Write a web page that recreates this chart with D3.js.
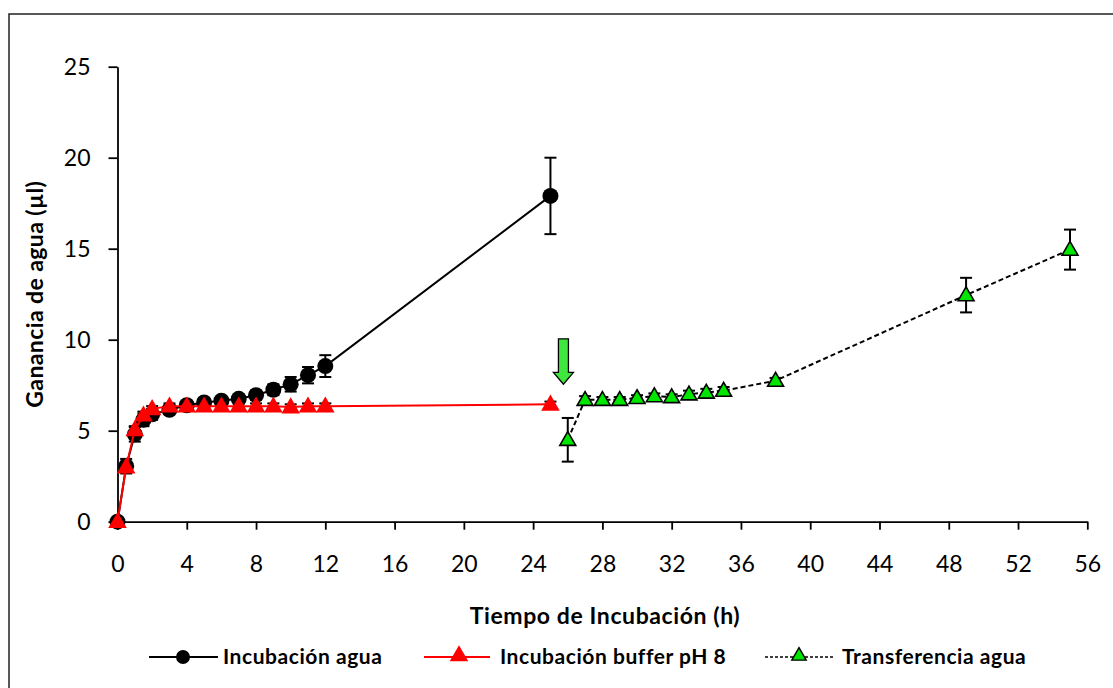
<!DOCTYPE html>
<html>
<head>
<meta charset="utf-8">
<script src="https://cdn.jsdelivr.net/npm/d3@7"></script>
<style>
  body { margin: 0; background: #fff; }
  svg { display: block; font-family: Lato, 'Open Sans', sans-serif; }
</style>
</head>
<body>
<div id="app"></div>
<script>
// tiempos (h) y ganancia de agua (µl)
const aguaT = [0, 0.5, 1, 1.5, 2, 3, 4, 5, 6, 7, 8, 9, 10, 11, 12, 25]
const aguaV = [0, 3.05, 4.8, 5.6, 5.9, 6.15, 6.4, 6.55, 6.65, 6.75, 6.95, 7.25, 7.55, 8.05, 8.55, 17.9]
const aguaE = [0, 0.4, 0.4, 0.35, 0.3, 0.2, 0.2, 0.2, 0.2, 0.2, 0.25, 0.3, 0.4, 0.45, 0.6, 2.1]

const bufferT = [0, 0.5, 1, 1.5, 2, 3, 4, 5, 6, 7, 8, 9, 10, 11, 12, 25]
const bufferV = [0, 3.0, 5.05, 5.85, 6.2, 6.35, 6.35, 6.35, 6.35, 6.35, 6.35, 6.35, 6.3, 6.35, 6.35, 6.45]
const bufferE = [0, 0.2, 0.2, 0.2, 0.15, 0.15, 0.15, 0.15, 0.15, 0.15, 0.15, 0.15, 0.15, 0.15, 0.15, 0.15]

const transT = [26, 27, 28, 29, 30, 31, 32, 33, 34, 35, 38, 49, 55]
const transV = [4.5, 6.7, 6.7, 6.7, 6.8, 6.9, 6.85, 7.0, 7.1, 7.2, 7.75, 12.45, 14.95]
const transE = [1.2, 0.2, 0.15, 0.15, 0.15, 0.15, 0.15, 0.2, 0.2, 0.2, 0.15, 0.95, 1.1]

const xTicks = d3.range(0, 57, 4)
const yTicks = [0, 5, 10, 15, 20, 25]

const W = 1113, H = 688

const svg = d3.select('#app').append('svg')
    .attr('width', W)
    .attr('height', H)

// marco exterior
svg.append('rect')
    .attr('x', 9).attr('y', 14)
    .attr('width', W).attr('height', H)
    .attr('fill', 'none')
    .attr('stroke', '#222')
    .attr('stroke-width', 1.5)

const x = d3.scaleLinear().domain([0, 56]).range([117.5, 1087.3])
const y = d3.scaleLinear().domain([0, 25]).range([521.7, 66.7])

const xAxis = d3.axisBottom(x).tickValues(xTicks).tickSize(8).tickSizeOuter(0).tickPadding(26)
const yAxis = d3.axisLeft(y).tickValues(yTicks).tickSize(9).tickSizeOuter(0).tickPadding(18)

const gx = svg.append('g')
    .attr('transform', 'translate(0,' + y(0) + ')')
    .call(xAxis)
const gy = svg.append('g')
    .attr('transform', 'translate(' + x(0) + ',0)')
    .call(yAxis)

;[gx, gy].forEach(g => {
    g.select('.domain').attr('stroke', '#000').attr('stroke-width', 1.8)
    g.selectAll('.tick line').attr('stroke', '#000').attr('stroke-width', 1.8)
    g.selectAll('.tick text')
        .attr('fill', '#000')
        .style('font-size', '23px')
        .style('font-family', 'Lato, sans-serif')
})

// titulos de ejes
svg.append('text')
    .attr('x', 605).attr('y', 624)
    .attr('text-anchor', 'middle')
    .style('font-size', '23px')
    .style('font-weight', 'bold')
    .style('letter-spacing', '0.6px')
    .text('Tiempo de Incubación  (h)')

svg.append('text')
    .attr('transform', 'translate(43,' + (y(0) + y(25)) / 2 + ') rotate(-90)')
    .attr('text-anchor', 'middle')
    .style('font-size', '23px')
    .style('font-weight', 'bold')
    .style('letter-spacing', '0.4px')
    .text('Ganancia de agua  (µl)')

const toPts = (t, v, e) => t.map((d, i) => ({t: d, v: v[i], e: e[i]}))
const agua = toPts(aguaT, aguaV, aguaE)
const buffer = toPts(bufferT, bufferV, bufferE)
const trans = toPts(transT, transV, transE)

const line = d3.line().x(d => x(d.t)).y(d => y(d.v))

const errorBars = (data) => {
    const g = svg.append('g')
    data.filter(d => d.e > 0).forEach(d => {
        g.append('line')
            .attr('x1', x(d.t)).attr('x2', x(d.t))
            .attr('y1', y(d.v - d.e)).attr('y2', y(d.v + d.e))
            .attr('stroke', '#000').attr('stroke-width', 2)
        ;[d.v - d.e, d.v + d.e].forEach(c => {
            g.append('line')
                .attr('x1', x(d.t) - 6).attr('x2', x(d.t) + 6)
                .attr('y1', y(c)).attr('y2', y(c))
                .attr('stroke', '#000').attr('stroke-width', 2)
        })
    })
}

const tri = d3.symbol().type(d3.symbolTriangle)

// serie 1: incubacion agua
errorBars(agua)
svg.append('path')
    .datum(agua)
    .attr('d', line)
    .attr('fill', 'none')
    .attr('stroke', '#000')
    .attr('stroke-width', 2)
svg.append('g').selectAll('circle')
    .data(agua)
    .enter()
    .append('circle')
    .attr('cx', d => x(d.t))
    .attr('cy', d => y(d.v))
    .attr('r', 8)
    .attr('fill', '#000')

// serie 2: incubacion buffer pH 8
errorBars(buffer)
svg.append('path')
    .datum(buffer)
    .attr('d', line)
    .attr('fill', 'none')
    .attr('stroke', '#ff0000')
    .attr('stroke-width', 2)
svg.append('g').selectAll('path')
    .data(buffer)
    .enter()
    .append('path')
    .attr('d', tri.size(150))
    .attr('transform', d => 'translate(' + x(d.t) + ',' + (y(d.v) + 1) + ')')
    .attr('fill', '#ff0000')

// serie 3: transferencia agua
errorBars(trans)
svg.append('path')
    .datum(trans)
    .attr('d', line)
    .attr('fill', 'none')
    .attr('stroke', '#000')
    .attr('stroke-width', 2)
    .attr('stroke-dasharray', '5,3')
svg.append('g').selectAll('path')
    .data(trans)
    .enter()
    .append('path')
    .attr('d', tri.size(110))
    .attr('transform', d => 'translate(' + x(d.t) + ',' + (y(d.v) + 1) + ')')
    .attr('fill', '#00e600')
    .attr('stroke', '#000')
    .attr('stroke-width', 1.6)

// flecha verde
const ax = x(25.75), aTop = y(10.05), aNeck = y(8.2), aTip = y(7.55)
svg.append('path')
    .attr('d', 'M' + (ax - 5) + ',' + aTop + 'L' + (ax + 5) + ',' + aTop +
        'L' + (ax + 5) + ',' + aNeck + 'L' + (ax + 10) + ',' + aNeck +
        'L' + ax + ',' + aTip + 'L' + (ax - 10) + ',' + aNeck +
        'L' + (ax - 5) + ',' + aNeck + 'Z')
    .attr('fill', '#3ee63e')
    .attr('stroke', '#000')
    .attr('stroke-width', 1.3)

// leyenda
const legY = 657
const leg = svg.append('g')
    .style('font-size', '21px')
    .style('font-weight', 'bold')
    .style('letter-spacing', '0.55px')

leg.append('line').attr('x1', 149).attr('x2', 218).attr('y1', legY).attr('y2', legY)
    .attr('stroke', '#000').attr('stroke-width', 2)
leg.append('circle').attr('cx', 183).attr('cy', legY).attr('r', 7).attr('fill', '#000')
leg.append('text').attr('x', 223).attr('y', legY + 7).text('Incubación agua')

leg.append('line').attr('x1', 424).attr('x2', 490).attr('y1', legY).attr('y2', legY)
    .attr('stroke', '#ff0000').attr('stroke-width', 2)
leg.append('path').attr('d', tri.size(150))
    .attr('transform', 'translate(459,' + (legY - 1) + ')').attr('fill', '#ff0000')
leg.append('text').attr('x', 500).attr('y', legY + 7).text('Incubación buffer pH 8')

leg.append('line').attr('x1', 765).attr('x2', 833).attr('y1', legY).attr('y2', legY)
    .attr('stroke', '#000').attr('stroke-width', 1.5).attr('stroke-dasharray', '3,2')
leg.append('path').attr('d', tri.size(90))
    .attr('transform', 'translate(799,' + (legY - 1) + ')')
    .attr('fill', '#00e600').attr('stroke', '#000').attr('stroke-width', 1.4)
leg.append('text').attr('x', 842).attr('y', legY + 7).text('Transferencia agua')
</script>
</body>
</html>
